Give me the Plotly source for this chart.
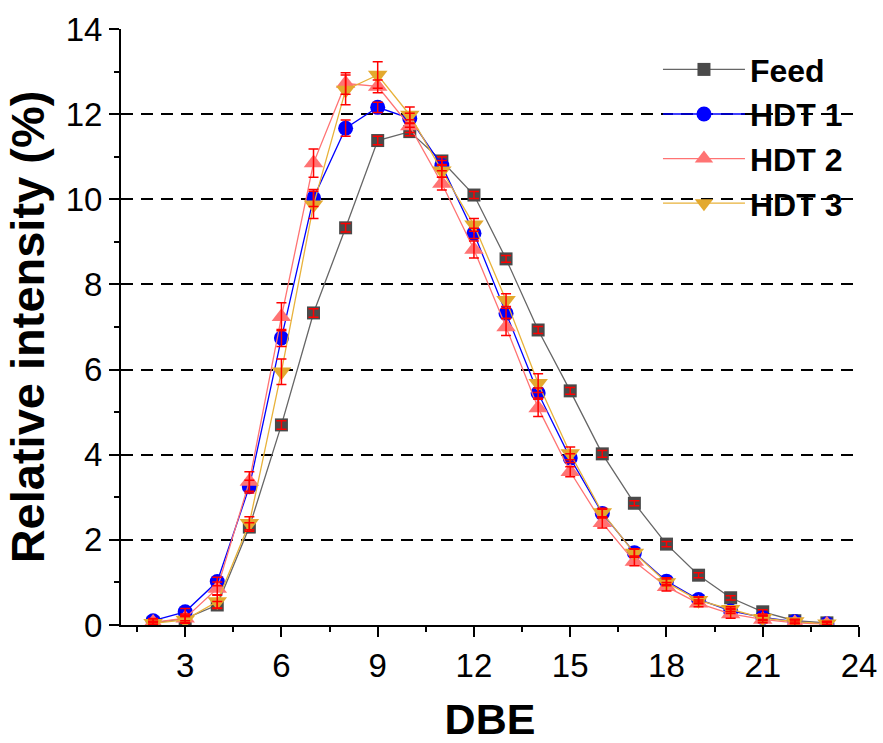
import plotly.graph_objects as go

dbe = list(range(2, 24))

feed = [0.05, 0.15, 0.47, 2.30, 4.70, 7.33, 9.33, 11.38, 11.59, 10.90, 10.10, 8.60,
        6.93, 5.50, 4.02, 2.86, 1.90, 1.17, 0.64, 0.31, 0.10, 0.05]
hdt1 = [0.10, 0.31, 1.02, 3.25, 6.74, 10.03, 11.67, 12.16, 11.90, 10.79, 9.20, 7.32,
        5.45, 3.92, 2.62, 1.70, 1.03, 0.60, 0.33, 0.18, 0.08, 0.03]
hdt2 = [0.06, 0.16, 0.86, 3.37, 7.24, 10.85, 12.72, 12.65, 11.72, 10.37, 8.82, 7.00,
        5.10, 3.60, 2.40, 1.49, 0.90, 0.51, 0.26, 0.13, 0.05, 0.02]
hdt3 = [0.04, 0.12, 0.55, 2.39, 5.95, 9.87, 12.57, 12.92, 11.98, 10.67, 9.40, 7.63,
        5.68, 4.03, 2.64, 1.69, 1.00, 0.58, 0.37, 0.16, 0.08, 0.03]

feed_err = [0.03, 0.05, 0.08, 0.10, 0.10, 0.10, 0.10, 0.10, 0.10, 0.10, 0.08, 0.08,
            0.08, 0.08, 0.08, 0.06, 0.06, 0.06, 0.05, 0.05, 0.03, 0.03]
hdt1_err = [0.05, 0.08, 0.10, 0.15, 0.20, 0.20, 0.19, 0.12, 0.12, 0.12, 0.12, 0.12,
            0.12, 0.10, 0.10, 0.08, 0.08, 0.06, 0.06, 0.05, 0.04, 0.03]
hdt2_err = [0.08, 0.10, 0.15, 0.23, 0.33, 0.33, 0.25, 0.15, 0.15, 0.15, 0.20, 0.20,
            0.20, 0.12, 0.12, 0.10, 0.10, 0.08, 0.10, 0.08, 0.08, 0.06]
hdt3_err = [0.05, 0.08, 0.15, 0.15, 0.30, 0.32, 0.35, 0.31, 0.19, 0.15, 0.15, 0.15,
            0.22, 0.15, 0.10, 0.10, 0.08, 0.08, 0.06, 0.06, 0.05, 0.05]

names = ["Feed", "HDT 1", "HDT 2", "HDT 3"]
series = [feed, hdt1, hdt2, hdt3]
errors = [feed_err, hdt1_err, hdt2_err, hdt3_err]
line_colors = ["#666666", "#0000ff", "#ff7373", "#e8b23a"]
marker_colors = ["#4a4a4a", "#0000ff", "#ff7373", "#e3a92e"]
symbols = ["square", "circle", "triangle-up", "triangle-down"]
sizes = [13, 15, 17, 17]

FONT = "Liberation Sans, Arial, sans-serif"

fig = go.Figure()
for n, s, c, mc, sym, sz in zip(names, series, line_colors, marker_colors, symbols, sizes):
    fig.add_trace(go.Scatter(
        x=dbe, y=s, name=n, mode="lines+markers",
        line=dict(color=c, width=1.3),
        marker=dict(symbol=sym, size=sz, color=mc, line=dict(width=0)),
    ))
# error bars drawn on top of all markers
for s, e in zip(series, errors):
    fig.add_trace(go.Scatter(
        x=dbe, y=s, mode="markers", showlegend=False, hoverinfo="skip",
        marker=dict(size=1, opacity=0),
        error_y=dict(type="data", array=e, visible=True, color="#ff0000",
                     thickness=1.5, width=5),
    ))

fig.update_layout(
    width=883, height=743,
    margin=dict(l=121, r=24, t=29, b=118, autoexpand=False),
    paper_bgcolor="white", plot_bgcolor="white",
    font=dict(family=FONT, color="black"),
    showlegend=True,
    legend=dict(
        x=0.7276, y=0.978, xanchor="left", yanchor="top",
        bgcolor="rgba(0,0,0,0)", borderwidth=0,
        font=dict(family=FONT, size=32, color="black", weight="bold"),
        itemwidth=82, tracegroupgap=0,
    ),
    xaxis=dict(
        range=[1, 24], tick0=0, dtick=3, automargin=False,
        showline=True, linecolor="black", linewidth=2,
        ticks="outside", ticklen=10, tickwidth=2, tickcolor="black",
        minor=dict(dtick=1.5, tick0=0, ticks="outside", ticklen=5, tickwidth=2, tickcolor="black"),
        showgrid=False, zeroline=False,
        tickfont=dict(family=FONT, size=33, color="black"),
        title=dict(text="<b>DBE</b>", font=dict(family=FONT, size=43, color="black"), standoff=24),
    ),
    yaxis=dict(
        range=[0, 14], tick0=0, dtick=2, automargin=False,
        showline=True, linecolor="black", linewidth=2,
        ticks="outside", ticklen=10, tickwidth=2, tickcolor="black",
        minor=dict(dtick=1, tick0=0, ticks="outside", ticklen=5, tickwidth=2, tickcolor="black"),
        showgrid=False, zeroline=False,
        tickfont=dict(family=FONT, size=33, color="black"),
        title=dict(text="<b>Relative intensity (%)</b>", font=dict(family=FONT, size=47, color="black"), standoff=6),
    ),
    yaxis2=dict(
        range=[0, 14], overlaying="y", side="left", automargin=False,
        tickvals=[2, 4, 6, 8, 10, 12], showticklabels=False, ticks="",
        showgrid=True, gridcolor="black", gridwidth=2, griddash="12px,8px",
        showline=False, zeroline=False, layer="below traces",
    ),
)
# attach an invisible trace to yaxis2 so the grid axis is drawn
fig.add_trace(go.Scatter(x=[1], y=[0], yaxis="y2", mode="markers",
                         marker=dict(opacity=0, size=1), showlegend=False, hoverinfo="skip"))

fig.write_html("out.html", config={"displayModeBar": False},
               post_script="document.body.style.margin='0';document.body.style.overflow='hidden';")
